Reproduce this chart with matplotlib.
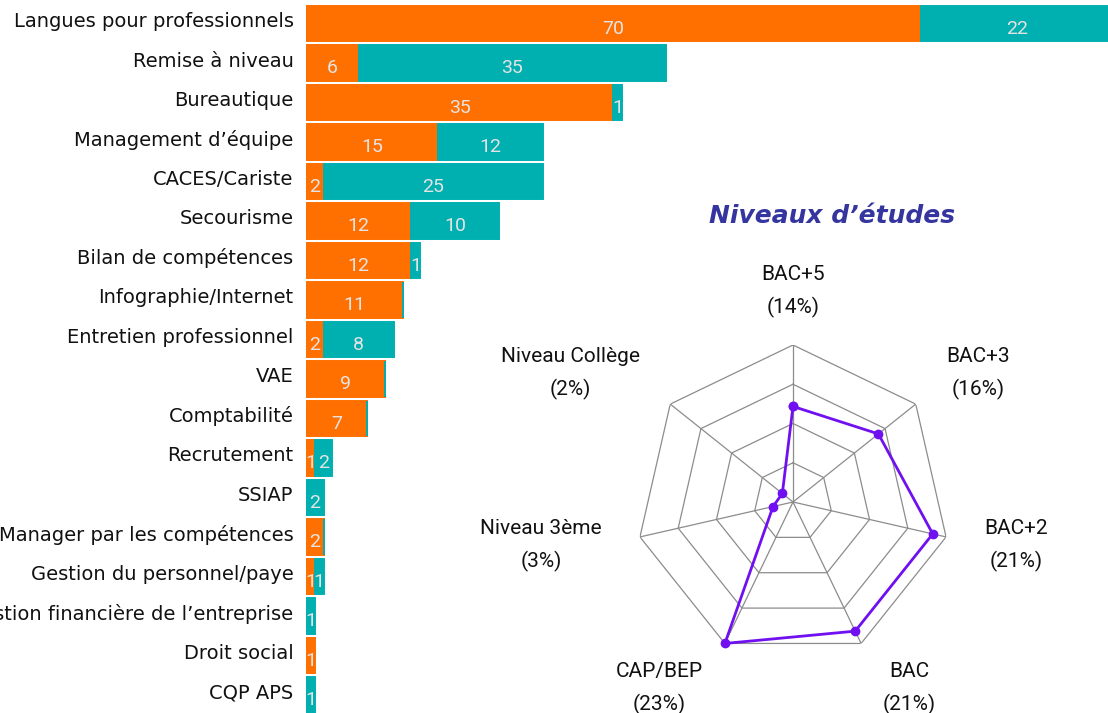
import numpy as np
import matplotlib
matplotlib.use('Agg')
import matplotlib.pyplot as plt
from matplotlib.transforms import ScaledTranslation

# Formations (stacked bars)
categories = ['Langues pour professionnels', 'Remise à niveau', 'Bureautique',
              'Management d\u2019équipe', 'CACES/Cariste', 'Secourisme',
              'Bilan de compétences', 'Infographie/Internet', 'Entretien professionnel',
              'VAE', 'Comptabilité', 'Recrutement', 'SSIAP',
              'Manager par les compétences', 'Gestion du personnel/paye',
              'Gestion financière de l\u2019entreprise', 'Droit social', 'CQP APS']
orange_vals = [70, 6, 35, 15, 2, 12, 12, 11, 2, 9, 7, 1, np.nan, 2, 1, np.nan, 1, np.nan]
teal_vals = [22, 35, 1, 12, 25, 10, 1, 0, 8, 0, 0, 2, 2, 0, 1, 1, np.nan, 1]

# Niveaux d'études (radar)
levels = ['BAC+5', 'BAC+3', 'BAC+2', 'BAC', 'CAP/BEP', 'Niveau 3ème', 'Niveau Collège']
level_pct = [14, 16, 21, 21, 23, 3, 2]

orange = '#FF7000'
teal = '#00AFAF'
txt_col = '#E4E4E4'

fig = plt.figure(figsize=(11.08, 7.13), dpi=100)

#  Bar chart
ax = fig.add_axes([306 / 1108, 0, 1 - 306 / 1108, 1])
y = np.arange(len(categories))
o = np.array(orange_vals, dtype=float)
t = np.array(teal_vals, dtype=float)
ax.barh(y, o, height=0.9, color=orange, edgecolor=orange, linewidth=1.4)
ax.barh(y, t, left=np.nan_to_num(o), height=0.9, color=teal, edgecolor=teal, linewidth=1.4)

for i in range(len(categories)):
    left = 0
    for v in (o[i], t[i]):
        if np.isnan(v):
            continue
        if v > 0:
            ax.text(left + v / 2, i + 0.13, '%d' % v, ha='center', va='center',
                    color=txt_col, fontsize=14, family='Roboto')
        left += v

ax.set_xlim(0, 91.3)
ax.set_ylim(17.456, -0.595)
ax.set_yticks(y)
ax.set_yticklabels(categories, fontsize=14, family='DejaVu Sans', color='#111111')
ax.tick_params(axis='y', length=0, pad=9)
shift = ScaledTranslation(0, 4 / 100, fig.dpi_scale_trans)
for lab in ax.get_yticklabels():
    lab.set_transform(lab.get_transform() + shift)
ax.set_xticks([])
for s in ax.spines.values():
    s.set_visible(False)
ax.patch.set_alpha(0)

#  Radar chart
cx, cy, rad = 793, 713 - 502, 157
pax = fig.add_axes([(cx - rad) / 1108, (cy - rad) / 713, 2 * rad / 1108, 2 * rad / 713],
                   projection='polar')
pax.set_theta_zero_location('N')
pax.set_theta_direction(-1)
rmax = 23
pax.set_ylim(0, rmax)
pax.grid(False)
pax.spines['polar'].set_visible(False)
pax.set_xticks([])
pax.set_yticks([])
pax.patch.set_alpha(0)

n = len(levels)
ang = np.arange(n) * 2 * np.pi / n
ang_c = np.append(ang, ang[0])
for k in range(1, 5):
    pax.plot(ang_c, [rmax * k / 4] * (n + 1), color='#8C8C8C', lw=0.9)
for a in ang:
    pax.plot([a, a], [0, rmax], color='#8C8C8C', lw=0.9)

vals = np.array(level_pct + [level_pct[0]], dtype=float)
pax.plot(ang_c, vals, color='#7010F0', lw=2, marker='o', ms=6, clip_on=False)

#  Point labels: left/right aligned depending on side of the chart
for a, lab, p in zip(ang, levels, level_pct):
    s, c = np.sin(a), np.cos(a)
    dy = 0
    if abs(s) < 0.1:
        ha, r = 'center', 1.34
    else:
        ha = 'left' if s > 0 else 'right'
        r = 1.25 if c > -0.5 else 1.32
        if c > 0.3:
            dy = 6
    txt = pax.text(a, rmax * r, '%s\n(%d%%)' % (lab, p), ha=ha, va='center',
                   multialignment='center', fontsize=15, family='Roboto',
                   color='#111111', linespacing=1.8)
    if dy:
        txt.set_transform(txt.get_transform() + ScaledTranslation(0, dy / 100, fig.dpi_scale_trans))

fig.text(832 / 1108, 1 - 216 / 713, 'Niveaux d\u2019études', ha='center', va='center',
         fontsize=18, fontweight='bold', style='italic', color='#3535A0', family='DejaVu Sans')

fig.savefig('out.png', dpi=100)
